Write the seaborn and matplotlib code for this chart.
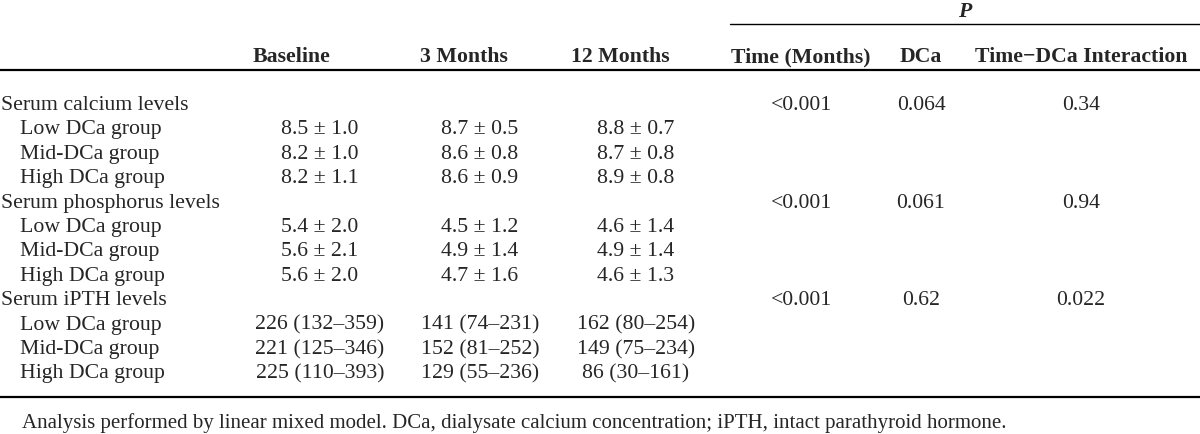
import matplotlib
matplotlib.use("Agg")
import matplotlib.pyplot as plt
import seaborn as sns

sns.set_style("white")
plt.rcParams['font.family'] = ['Liberation Serif', 'DejaVu Serif']

# table content
time_cols = ["Baseline", "3 Months", "12 Months"]
p_cols = ["Time (Months)", "DCa", "Time\u2212DCa Interaction"]
groups = ["Low DCa group", "Mid-DCa group", "High DCa group"]

calcium = [["8.5 \u00b1 1.0", "8.7 \u00b1 0.5", "8.8 \u00b1 0.7"],
           ["8.2 \u00b1 1.0", "8.6 \u00b1 0.8", "8.7 \u00b1 0.8"],
           ["8.2 \u00b1 1.1", "8.6 \u00b1 0.9", "8.9 \u00b1 0.8"]]
phosphorus = [["5.4 \u00b1 2.0", "4.5 \u00b1 1.2", "4.6 \u00b1 1.4"],
              ["5.6 \u00b1 2.1", "4.9 \u00b1 1.4", "4.9 \u00b1 1.4"],
              ["5.6 \u00b1 2.0", "4.7 \u00b1 1.6", "4.6 \u00b1 1.3"]]
ipth = [["226 (132\u2013359)", "141 (74\u2013231)", "162 (80\u2013254)"],
        ["221 (125\u2013346)", "152 (81\u2013252)", "149 (75\u2013234)"],
        ["225 (110\u2013393)", "129 (55\u2013236)", "86 (30\u2013161)"]]

sections = ["Serum calcium levels", "Serum phosphorus levels", "Serum iPTH levels"]
section_vals = [calcium, phosphorus, ipth]
p_values = [["<0.001", "0.064", "0.34"],
            ["<0.001", "0.061", "0.94"],
            ["<0.001", "0.62", "0.022"]]

footnote = ("Analysis performed by linear mixed model. DCa, dialysate calcium "
            "concentration; iPTH, intact parathyroid hormone.")

# layout (pixel space, y = text baseline)
head_x = [292, 464, 620]
col_x = [320, 480, 636]
pcol_x = [801, 921, 1081]
row0, step = 110, 24.4
fs = 15.7

fig = plt.figure(figsize=(12, 4.35), dpi=100)
ax = fig.add_axes([0, 0, 1, 1])
ax.set_xlim(0, 1200)
ax.set_ylim(435, 0)
ax.axis("off")

ax.text(965, 17, "P", fontsize=fs, fontweight="bold", style="italic", ha="center", va="baseline")
ax.plot([730, 1200], [25, 25], color="black", lw=1.0)

for x, c in zip(head_x, time_cols):
    ax.text(x, 62, c, fontsize=fs, fontweight="bold", ha="center", va="baseline")
for x, c in zip(pcol_x, p_cols):
    ax.text(x, 62, c, fontsize=fs, fontweight="bold", ha="center", va="baseline")
ax.plot([0, 1200], [71, 71], color="black", lw=1.6)

r = 0
for name, vals, pv in zip(sections, section_vals, p_values):
    y = row0 + r * step
    ax.text(1, y, name, fontsize=fs, ha="left", va="baseline")
    for x, v in zip(pcol_x, pv):
        ax.text(x, y, v, fontsize=fs, ha="center", va="baseline")
    r += 1
    for g, row in zip(groups, vals):
        y = row0 + r * step
        ax.text(20, y, g, fontsize=fs, ha="left", va="baseline")
        for x, v in zip(col_x, row):
            ax.text(x, y, v, fontsize=fs, ha="center", va="baseline")
        r += 1

ax.plot([0, 1200], [398, 398], color="black", lw=1.6)
ax.text(22, 428, footnote, fontsize=15, ha="left", va="baseline")

fig.savefig("out.png", dpi=100)
